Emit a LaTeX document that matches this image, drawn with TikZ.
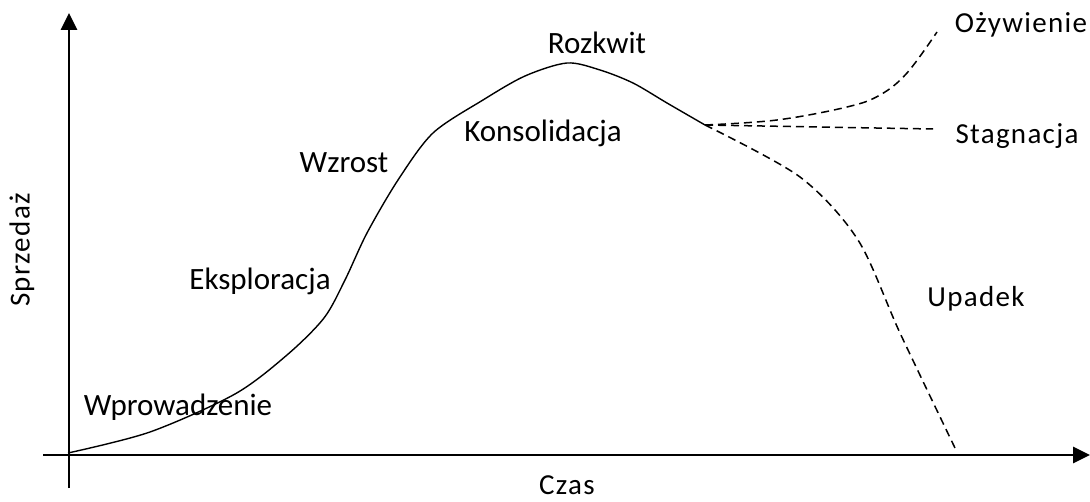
\documentclass[tikz,border=0pt]{standalone}
\usepackage{fontspec}
\setmainfont{Carlito}
\newfontfamily\thinfont[LetterSpace=4.5]{Carlito}
\usetikzlibrary{arrows.meta}

\begin{document}
\begin{tikzpicture}[x=1pt, y=-1pt,
  axis/.style={line width=2.8pt, -{Triangle[length=17pt,width=16pt]}},
  phase/.style={font=\fontsize{31}{36}\selectfont, inner sep=0pt},
  outcome/.style={font=\thinfont\fontsize{29}{34}\selectfont, inner sep=0pt},
  branch/.style={line width=1.5pt, dash pattern=on 8pt off 5pt}]
\useasboundingbox (0,0) rectangle (1090,502);
\draw[axis] (69,488) -- (69,13);
\draw[axis] (43,455) -- (1090,455);
\draw[line width=1.4pt] plot[smooth, tension=0.5] coordinates {(68,453) (150,432) (235,394) (287,355) (324,318) (345,280) (367,233) (398,180) (433,133) (483,100) (525,76) (567,63) (600,70) (633,83) (667,103) (705,125)};
\draw[branch] plot[smooth, tension=0.6] coordinates {(705,125) (777,120) (847,107) (880,95) (907,73) (937,32)};
\draw[branch] (705,125) -- (933,129);
\draw[branch] plot[smooth, tension=0.5] coordinates {(705,125) (800,177) (858,240) (900,333) (955,448)};
\node[phase] (wpr) at (178,407) {Wprowadzenie};
\node[phase] (eks) at (260,281) {Eksploracja};
\node[phase] (wzr) at (344,163) {Wzrost};
\node[phase] (kon) at (543,133) {Konsolidacja};
\node[phase] (roz) at (597,43) {Rozkwit};
\node[outcome] (ozy) at (1021,25) {Ożywienie};
\node[outcome] (sta) at (1017,136) {Stagnacja};
\node[outcome] (upa) at (976,299) {Upadek};
\node[outcome] (czas) at (567,485) {Czas};
\node[outcome, rotate=90] (spr) at (22,250) {Sprzedaż};
\end{tikzpicture}
\end{document}
